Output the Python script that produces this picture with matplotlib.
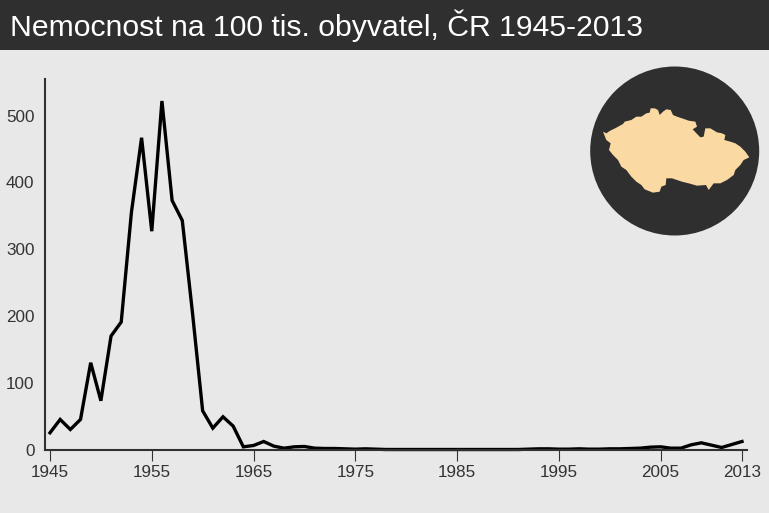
import matplotlib
matplotlib.use("Agg")
import matplotlib.pyplot as plt
from matplotlib.patches import Circle, Polygon, Rectangle

plt.rcParams["font.family"] = ["Liberation Sans", "DejaVu Sans"]

title = "Nemocnost na 100 tis. obyvatel, ČR 1945-2013"
years = list(range(1945, 2014))
values = [25, 45, 30, 45, 130, 73, 170, 191, 355, 467,
          327, 522, 373, 343, 205, 58, 32, 49, 35, 4,
          6, 12, 5, 2, 4, 4.5, 2, 1.5, 1.5, 1,
          0.5, 1, 0.5, 0, 0, 0, 0, 0, 0, 0,
          0, 0, 0, 0, 0, 0, 0, 0.5, 1, 1,
          0.5, 0.5, 1, 0.5, 0.5, 1, 1, 1.5, 2, 3.5,
          4, 2, 2, 7, 10, 6.5, 3, 7.5, 12]
x_ticks = [1945, 1955, 1965, 1975, 1985, 1995, 2005, 2013]
y_ticks = [0, 100, 200, 300, 400, 500]

top_west = [(15, 95), (25, 100), (35, 93), (55, 83), (75, 72), (80, 65), (100, 60), (115, 50), (130, 50),
            (145, 40), (155, 38), (158, 25), (170, 25), (180, 30), (185, 45), (195, 35), (205, 28),
            (218, 30), (225, 45)]
east = [(15, 50), (30, 55), (50, 62), (70, 65), (75, 80), (62, 88), (85, 112), (95, 110), (100, 85),
        (115, 85), (135, 97), (150, 100), (160, 105), (157, 120), (175, 125), (190, 130), (205, 140),
        (220, 155), (232, 172), (215, 180), (205, 195), (190, 210), (185, 225), (165, 240), (145, 250),
        (125, 250), (110, 270), (102, 255), (75, 257), (50, 250), (30, 245)]
bottom_west = [(222, 235), (205, 235), (203, 255), (190, 260), (185, 275), (165, 278), (140, 268),
               (130, 255), (115, 245), (100, 230), (85, 210), (70, 200), (60, 180), (45, 165),
               (33, 150), (38, 130), (25, 120)]

fig = plt.figure(figsize=(7.69, 5.13), dpi=100, facecolor="#e8e8e8")
W, H = 769, 513
left, right, top, bottom = 45, 747, 79, 449.5
ax = fig.add_axes([left / W, 1 - bottom / H, (right - left) / W, (bottom - top) / H])
ax.set_facecolor("none")
ax.plot(years, values, color="black", lw=2.4, solid_joinstyle="miter", clip_on=False)
ax.set_xlim(1944.51, 2013.49)
ax.set_ylim(0, 555)
ax.set_xticks(x_ticks)
ax.set_yticks(y_ticks)
ax.tick_params(axis="x", length=8, width=0.8, color="#333333", labelcolor="#333333", labelsize=12.3, pad=3.5)
ax.tick_params(axis="y", length=0, labelcolor="#333333", labelsize=12.3, pad=7.5)
ax.spines[["top", "right"]].set_visible(False)
ax.spines[["left", "bottom"]].set_color("#303030")
ax.spines[["left", "bottom"]].set_linewidth(1.5)

# header bar and map badge
over = fig.add_axes([0, 0, 1, 1])
over.set_xlim(0, W)
over.set_ylim(H, 0)
over.axis("off")
over.patch.set_alpha(0)
over.add_patch(Rectangle((0, 0), W, 50, color="#2f2f2f", lw=0))
over.text(10, 25.5, title, color="white", fontsize=21.7, va="center", ha="left")
over.add_patch(Circle((674.7, 151), 84.5, color="#2f2f2f", lw=0))
outline = [(598 + x / 3, 100 + y / 3) for x, y in top_west]
outline += [(672 + x / 3, 100 + y / 3) for x, y in east]
outline += [(598 + x / 3, 100 + y / 3) for x, y in bottom_west]
over.add_patch(Polygon(outline, closed=True, color="#fbd9a3", lw=0))

fig.savefig("out.png", dpi=100, facecolor=fig.get_facecolor())
